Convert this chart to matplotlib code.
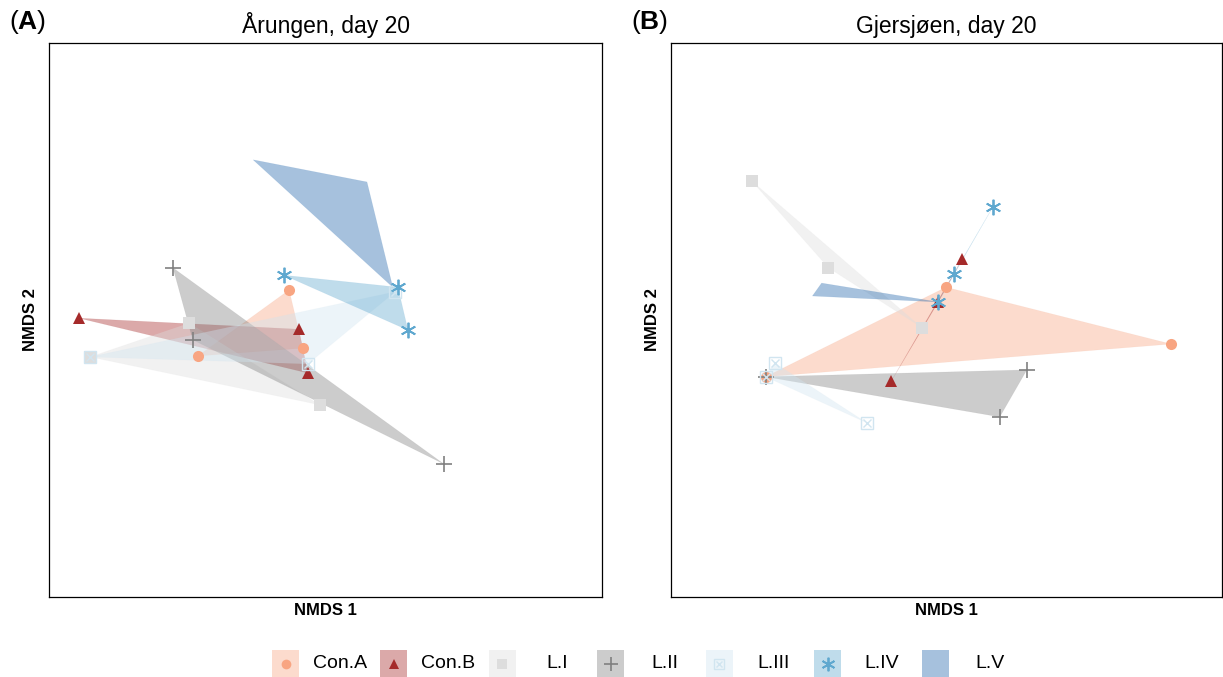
import matplotlib
matplotlib.use("Agg")
import matplotlib.pyplot as plt
from matplotlib.patches import Rectangle
from matplotlib.colors import to_rgba

plt.rcParams["font.family"] = ["Liberation Sans", "DejaVu Sans"]
plt.rcParams["mathtext.fontset"] = "custom"
plt.rcParams["mathtext.rm"] = "Liberation Sans"
plt.rcParams["mathtext.bf"] = "Liberation Sans:bold"

groups = ["Con.A", "Con.B", "L.I", "L.II", "L.III", "L.IV", "L.V"]
colours = ["#F8A582", "#A52A2A", "#DDDDDD", "#808080", "#D1E5F0", "#5FA8CF", "#2166AC"]
markers = ["o", "^", "s", "+", "boxx", (6, 2, 0), None]

# NMDS scores, three replicates per group (x, y)
arungen_x = {
    "Con.A": [-0.079, -0.049, -0.277],
    "Con.B": [-0.535, -0.058, -0.038],
    "L.I": [-0.296, -0.012, -0.511],
    "L.II": [-0.331, -0.288, 0.257],
    "L.III": [-0.511, -0.038, 0.151],
    "L.IV": [-0.090, 0.157, 0.179],
    "L.V": [-0.157, 0.090, 0.146],
}
arungen_y = {
    "Con.A": [0.065, -0.061, -0.078],
    "Con.B": [0.004, -0.020, -0.115],
    "L.I": [-0.007, -0.184, -0.080],
    "L.II": [0.113, -0.043, -0.312],
    "L.III": [-0.080, -0.095, 0.061],
    "L.IV": [0.097, 0.071, -0.022],
    "L.V": [0.347, 0.299, 0.071],
}
gjersjoen_x = {
    "Con.A": [-0.001, 0.489, -0.394],
    "Con.B": [0.034, -0.018, -0.120],
    "L.I": [-0.424, -0.257, -0.053],
    "L.II": [-0.394, 0.175, 0.116],
    "L.III": [-0.374, -0.394, -0.173],
    "L.IV": [0.101, 0.016, -0.018],
    "L.V": [-0.292, -0.272, -0.018],
}
gjersjoen_y = {
    "Con.A": [0.071, -0.052, -0.123],
    "Con.B": [0.132, 0.039, -0.132],
    "L.I": [0.301, 0.113, -0.017],
    "L.II": [-0.123, -0.108, -0.210],
    "L.III": [-0.093, -0.123, -0.223],
    "L.IV": [0.245, 0.100, 0.039],
    "L.V": [0.052, 0.080, 0.039],
}

ALPHA = 0.4


def draw_marker(ax, x, y, marker, colour, size=8):
    if marker is None:
        return
    if marker == "boxx":
        ax.plot(x, y, ls="none", marker="s", ms=size, mfc="none", mec=colour, mew=1.0)
        ax.plot(x, y, ls="none", marker="x", ms=size * 0.65, mec=colour, mew=1.0)
    elif marker == "+":
        ax.plot(x, y, ls="none", marker="+", ms=size * 1.5, mec=colour, mew=1.2)
    elif isinstance(marker, tuple):
        ax.plot(x, y, ls="none", marker=marker, ms=size * 1.4, mec=colour, mew=1.3)
    else:
        ax.plot(x, y, ls="none", marker=marker, ms=size, mfc=colour, mec=colour, mew=0)


def hull_panel(ax, xs, ys, title, tag):
    for g, c in zip(groups, colours):
        ax.fill(xs[g], ys[g], facecolor=to_rgba(c, ALPHA), edgecolor=to_rgba(c, 0.12), linewidth=0.4)
    for g, c, m in zip(groups, colours, markers):
        draw_marker(ax, xs[g], ys[g], m, c)
    ax.set_xlim(-0.6, 0.6)
    ax.set_ylim(-0.6, 0.6)
    ax.set_xticks([])
    ax.set_yticks([])
    for s in ax.spines.values():
        s.set_linewidth(0.9)
    ax.text(0.5, 1 + 10 / 554, title, transform=ax.transAxes, fontsize=16.5,
            ha="center", va="baseline")
    ax.set_xlabel("NMDS 1", fontsize=12, fontweight="bold", labelpad=4)
    ax.set_ylabel("NMDS 2", fontsize=12, fontweight="bold", labelpad=8)
    ax.text(-0.072, 1.012, tag, transform=ax.transAxes, fontsize=19, ha="left", va="bottom")


fig = plt.figure(figsize=(12.23, 6.77), dpi=100)
ax_a = fig.add_axes([49 / 1223, 1 - 597 / 677, 553 / 1223, 554 / 677])
ax_b = fig.add_axes([671 / 1223, 1 - 597 / 677, 551 / 1223, 554 / 677])

hull_panel(ax_a, arungen_x, arungen_y, "Årungen, day 20", r"($\mathbf{A}$)")
hull_panel(ax_b, gjersjoen_x, gjersjoen_y, "Gjersjøen, day 20", r"($\mathbf{B}$)")

# legend drawn in pixel units along the bottom
leg = fig.add_axes([0, 0, 1, 1], zorder=-1)
leg.set_xlim(0, 1223)
leg.set_ylim(677, 0)
leg.axis("off")
for i, (g, c, m) in enumerate(zip(groups, colours, markers)):
    x0 = 272 + i * 108.4
    leg.add_patch(Rectangle((x0, 650), 27, 27, facecolor=to_rgba(c, ALPHA), edgecolor="none"))
    draw_marker(leg, [x0 + 13.5], [663.5], m, c, size=7)
    leg.text(x0 + 68, 663.5, g, fontsize=14, ha="center", va="center")

fig.savefig("out.png", dpi=100)
